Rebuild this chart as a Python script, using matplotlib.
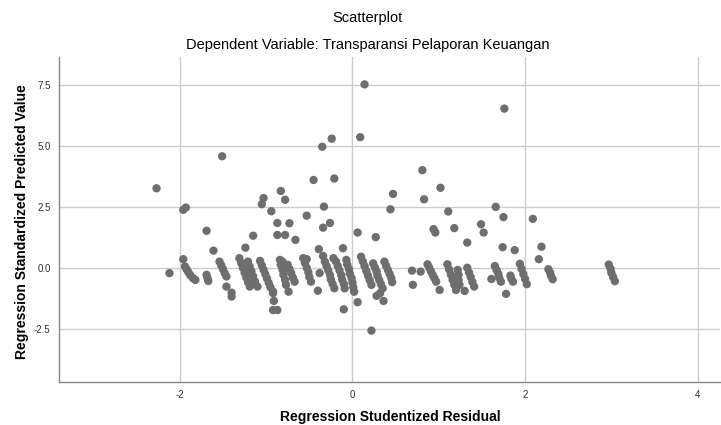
import matplotlib.pyplot as plt

plt.rcParams["font.family"] = ["Liberation Sans", "DejaVu Sans"]

# scattered points (studentized residual, standardized predicted)
resid_out = [-2.27, 0.14, 1.76, -1.51, -0.35, -0.24, 0.09, -0.45, -0.21, 0.81,
             1.02, 0.47, 0.83, -0.83, -1.03, -0.78, -1.05, -0.94, -0.33, -0.53,
             -0.87, -0.73, -0.26, -0.34, -1.69, -1.15, -0.87, -0.78, -0.66, 0.44,
             1.11, 1.66, 0.06, 0.27, 0.94, 0.96, 1.18, 1.49, 1.52, 1.75,
             1.33, 2.09, 2.19, 2.16, 1.74, 1.88, 1.78, 1.30, 1.61, -1.96,
             -1.93, -1.61, -1.24, -1.96, -2.12, -0.39, -0.34, -0.11, -0.22, -0.53,
             -0.81, -0.40, -0.74, -0.92, -0.91, -0.92, -0.87, -0.10, 0.06, 0.22,
             0.28, 0.32, 0.36, -0.38, -1.46, -1.40, -1.40, 1.01, 0.69, 0.70, 0.79]
pred_out = [3.27, 7.52, 6.53, 4.58, 4.97, 5.30, 5.36, 3.61, 3.67, 4.01,
            3.29, 3.04, 2.82, 3.16, 2.87, 2.80, 2.62, 2.33, 2.52, 2.15,
            1.85, 1.84, 1.85, 1.66, 1.53, 1.33, 1.36, 1.36, 1.16, 2.41,
            2.32, 2.51, 1.46, 1.27, 1.60, 1.46, 1.64, 1.80, 1.46, 2.09,
            1.05, 2.02, 0.88, 0.37, 0.86, 0.74, -1.05, -0.93, -0.44, 2.39,
            2.48, 0.72, 0.84, 0.37, -0.20, 0.78, 0.50, 0.82, 0.41, 0.37,
            0.27, -0.92, -0.96, -1.02, -1.34, -1.71, -1.71, -1.68, -1.39, -2.55,
            -1.13, -1.02, -1.34, -0.20, -0.75, -1.00, -1.16, -0.89, -0.10, -0.68, -0.14]

# the slanted streaks around predicted value 0
band_resid = [
    -1.94, -1.92, -1.90, -1.88, -1.85, -1.82,
    -1.69, -1.68, -1.67,
    -1.54, -1.52, -1.50, -1.48, -1.46,
    -1.31, -1.29, -1.27, -1.25, -1.23, -1.21, -1.19,
    -1.21, -1.19, -1.17, -1.15, -1.13, -1.10,
    -1.07, -1.05, -1.03, -1.01, -0.99, -0.97, -0.95, -0.92,
    -0.84, -0.83, -0.81, -0.80, -0.78, -0.77,
    -0.75, -0.73, -0.71, -0.69, -0.67,
    -0.57, -0.55, -0.53, -0.51, -0.50, -0.48,
    -0.32, -0.30, -0.28, -0.26, -0.25, -0.23, -0.21,
    -0.19, -0.17, -0.15, -0.13, -0.12, -0.10, -0.09,
    -0.07, -0.06, -0.04, -0.03, -0.01, 0.00, 0.01, 0.02,
    0.10, 0.12, 0.14, 0.16, 0.18, 0.20, 0.22,
    0.24, 0.26, 0.28, 0.29, 0.31, 0.33, 0.35,
    0.37, 0.39, 0.41, 0.43, 0.45, 0.46,
    0.87, 0.89, 0.91, 0.93, 0.95, 0.97,
    1.10, 1.12, 1.14, 1.16, 1.18, 1.20,
    1.22, 1.23, 1.23, 1.24,
    1.33, 1.35, 1.37, 1.39, 1.41,
    1.65, 1.67, 1.69, 1.70, 1.72,
    1.83, 1.84, 1.86,
    1.94, 1.96, 1.98, 2.00, 2.02,
    2.27, 2.29, 2.30, 2.32,
    2.97, 2.99, 3.00, 3.02, 3.04,
]
band_pred = [
    0.07, -0.05, -0.17, -0.28, -0.40, -0.48,
    -0.27, -0.40, -0.52,
    0.27, 0.12, -0.04, -0.20, -0.34,
    0.41, 0.22, 0.02, -0.18, -0.38, -0.57, -0.75,
    0.27, 0.07, -0.13, -0.33, -0.54, -0.75,
    0.30, 0.12, -0.06, -0.24, -0.42, -0.60, -0.78, -0.96,
    0.34, 0.14, -0.06, -0.27, -0.48, -0.68,
    0.14, -0.03, -0.20, -0.38, -0.55,
    0.41, 0.22, 0.02, -0.17, -0.36, -0.55,
    0.27, 0.09, -0.09, -0.28, -0.46, -0.64, -0.82,
    0.27, 0.09, -0.09, -0.28, -0.46, -0.64, -0.82,
    0.34, 0.15, -0.04, -0.22, -0.40, -0.59, -0.78, -0.96,
    0.47, 0.28, 0.09, -0.11, -0.30, -0.49, -0.68,
    0.20, 0.03, -0.14, -0.31, -0.48, -0.65, -0.82,
    0.27, 0.10, -0.07, -0.23, -0.40, -0.57,
    0.16, 0.02, -0.13, -0.27, -0.41, -0.55,
    0.16, -0.05, -0.26, -0.47, -0.68, -0.89,
    -0.07, -0.27, -0.48, -0.68,
    0.02, -0.17, -0.36, -0.56, -0.75,
    0.09, -0.07, -0.23, -0.39, -0.55,
    -0.30, -0.42, -0.55,
    0.18, -0.03, -0.24, -0.44, -0.65,
    -0.04, -0.18, -0.31, -0.45,
    0.15, -0.02, -0.19, -0.36, -0.53,
]

x_ticks = [-2, 0, 2, 4]
y_ticks = [-2.5, 0.0, 2.5, 5.0, 7.5]

fig = plt.figure(figsize=(7.21, 4.25), dpi=100)
ax = fig.add_axes([0.0818, 0.102, 0.917, 0.765])

dot = "#6e6e6e"
ax.scatter(band_resid, band_pred, s=36, color=dot, edgecolors="none", zorder=3)
ax.scatter(resid_out, pred_out, s=36, color=dot, edgecolors="none", zorder=3)

ax.set_xlim(-3.4, 4.26)
ax.set_ylim(-4.64, 8.66)
ax.set_xticks(x_ticks)
ax.set_xticklabels([str(t) for t in x_ticks])
ax.set_yticks(y_ticks)
ax.set_yticklabels(["%.1f" % t for t in y_ticks])
ax.tick_params(length=0, labelsize=7, labelcolor="#333333", pad=6)

ax.grid(True, color="#cccccc", linewidth=1.0, zorder=0)
ax.set_axisbelow(True)
for s in ["top", "right"]:
    ax.spines[s].set_visible(False)
for s in ["left", "bottom"]:
    ax.spines[s].set_color("#888888")
    ax.spines[s].set_linewidth(1.0)

# axis titles placed as figure text so they sit where SPSS puts them
fig.text(0.541, 0.018, "Regression Studentized Residual", ha="center", va="center",
         fontsize=10, fontweight="bold")
fig.text(0.03, 0.478, "Regression Standardized Predicted Value", ha="center", va="center",
         rotation=90, fontsize=10, fontweight="bold")

fig.text(0.51, 0.957, "Scatterplot", ha="center", va="center", fontsize=10.5)
fig.text(0.51, 0.893, "Dependent Variable: Transparansi Pelaporan Keuangan",
         ha="center", va="center", fontsize=10.5)

fig.savefig("out.png", dpi=100)
